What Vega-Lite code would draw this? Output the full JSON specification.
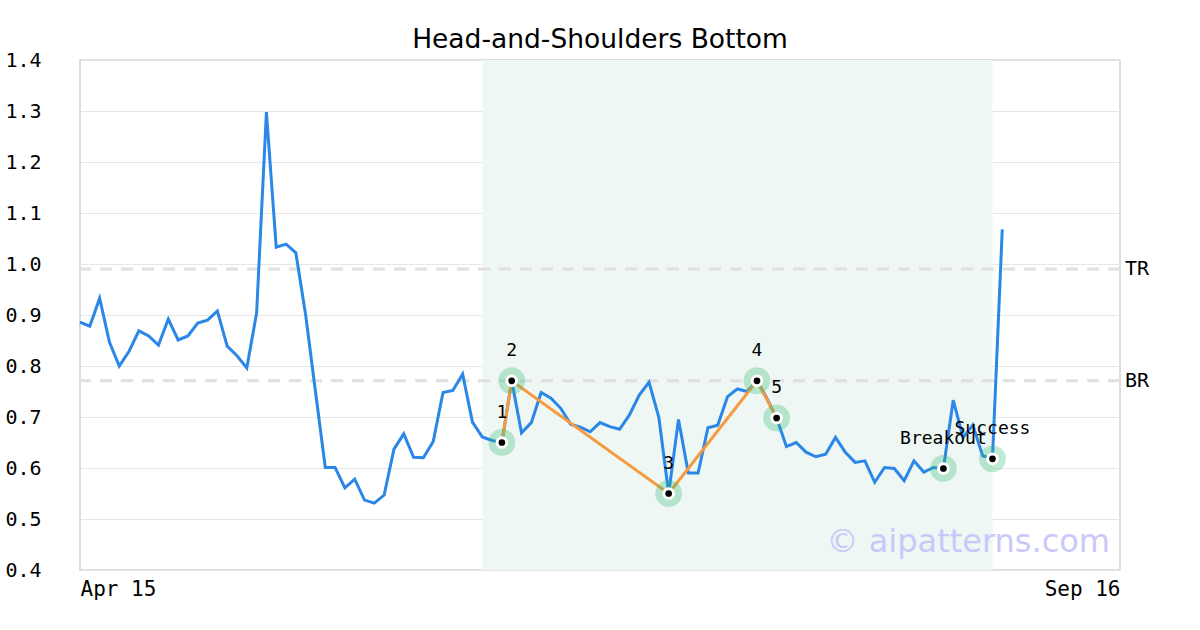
{
  "$schema": "https://vega.github.io/schema/vega-lite/v6.json",
  "width": 1040,
  "height": 510,
  "autosize": "none",
  "padding": {"left": 80, "top": 60, "right": 80, "bottom": 60},
  "background": "white",
  "title": {"text": "Head-and-Shoulders Bottom", "font": "DejaVu Sans", "fontSize": 26.5, "fontWeight": "normal", "color": "#000000", "offset": -3},
  "config": {
    "view": {"stroke": "#dddddd", "strokeWidth": 2},
    "axis": {"labelFont": "DejaVu Sans Mono", "labelFontSize": 20, "labelColor": "#000000", "domain": false, "ticks": false, "title": null}
  },
  "datasets": {
    "series": [
      {"i": 0, "v": 0.886}, {"i": 1, "v": 0.878}, {"i": 2, "v": 0.933}, {"i": 3, "v": 0.847}, {"i": 4, "v": 0.8},
      {"i": 5, "v": 0.829}, {"i": 6, "v": 0.869}, {"i": 7, "v": 0.859}, {"i": 8, "v": 0.841}, {"i": 9, "v": 0.892},
      {"i": 10, "v": 0.851}, {"i": 11, "v": 0.859}, {"i": 12, "v": 0.884}, {"i": 13, "v": 0.89}, {"i": 14, "v": 0.908},
      {"i": 15, "v": 0.839}, {"i": 16, "v": 0.82}, {"i": 17, "v": 0.796}, {"i": 18, "v": 0.904}, {"i": 19, "v": 1.298},
      {"i": 20, "v": 1.033}, {"i": 21, "v": 1.039}, {"i": 22, "v": 1.022}, {"i": 23, "v": 0.9}, {"i": 24, "v": 0.75},
      {"i": 25, "v": 0.601}, {"i": 26, "v": 0.601}, {"i": 27, "v": 0.561}, {"i": 28, "v": 0.578}, {"i": 29, "v": 0.537},
      {"i": 30, "v": 0.531}, {"i": 31, "v": 0.547}, {"i": 32, "v": 0.637}, {"i": 33, "v": 0.667}, {"i": 34, "v": 0.621},
      {"i": 35, "v": 0.62}, {"i": 36, "v": 0.652}, {"i": 37, "v": 0.748}, {"i": 38, "v": 0.752}, {"i": 39, "v": 0.784},
      {"i": 40, "v": 0.69}, {"i": 41, "v": 0.661}, {"i": 42, "v": 0.654}, {"i": 43, "v": 0.65}, {"i": 44, "v": 0.771},
      {"i": 45, "v": 0.669}, {"i": 46, "v": 0.689}, {"i": 47, "v": 0.748}, {"i": 48, "v": 0.737}, {"i": 49, "v": 0.717},
      {"i": 50, "v": 0.686}, {"i": 51, "v": 0.68}, {"i": 52, "v": 0.671}, {"i": 53, "v": 0.689}, {"i": 54, "v": 0.681},
      {"i": 55, "v": 0.676}, {"i": 56, "v": 0.704}, {"i": 57, "v": 0.743}, {"i": 58, "v": 0.768}, {"i": 59, "v": 0.699},
      {"i": 60, "v": 0.55}, {"i": 61, "v": 0.695}, {"i": 62, "v": 0.59}, {"i": 63, "v": 0.59}, {"i": 64, "v": 0.679},
      {"i": 65, "v": 0.684}, {"i": 66, "v": 0.74}, {"i": 67, "v": 0.755}, {"i": 68, "v": 0.75}, {"i": 69, "v": 0.771},
      {"i": 70, "v": 0.737}, {"i": 71, "v": 0.698}, {"i": 72, "v": 0.642}, {"i": 73, "v": 0.65}, {"i": 74, "v": 0.631},
      {"i": 75, "v": 0.622}, {"i": 76, "v": 0.627}, {"i": 77, "v": 0.66}, {"i": 78, "v": 0.631}, {"i": 79, "v": 0.611},
      {"i": 80, "v": 0.614}, {"i": 81, "v": 0.572}, {"i": 82, "v": 0.601}, {"i": 83, "v": 0.599}, {"i": 84, "v": 0.575},
      {"i": 85, "v": 0.614}, {"i": 86, "v": 0.592}, {"i": 87, "v": 0.601}, {"i": 88, "v": 0.599}, {"i": 89, "v": 0.733},
      {"i": 90, "v": 0.66}, {"i": 91, "v": 0.684}, {"i": 92, "v": 0.624}, {"i": 93, "v": 0.618}, {"i": 94, "v": 1.068}
    ],
    "pattern": [
      {"i": 43, "v": 0.65, "label": "1", "shape": true},
      {"i": 44, "v": 0.771, "label": "2", "shape": true},
      {"i": 60, "v": 0.55, "label": "3", "shape": true},
      {"i": 69, "v": 0.771, "label": "4", "shape": true},
      {"i": 71, "v": 0.698, "label": "5", "shape": true},
      {"i": 88, "v": 0.599, "label": "Breakout", "shape": false},
      {"i": 93, "v": 0.618, "label": "Success", "shape": false}
    ],
    "levels": [
      {"name": "TR", "v": 0.99, "i": 106},
      {"name": "BR", "v": 0.771, "i": 106}
    ],
    "zone": [{"start": 41, "end": 93}],
    "mark": [{"i": 106, "v": 0.455, "text": "© aipatterns.com"}]
  },
  "encoding": {
    "x": {"field": "i", "type": "quantitative", "scale": {"domain": [0, 106], "nice": false, "zero": false},
      "axis": {"values": [0, 106], "labelExpr": "datum.value == 0 ? 'Apr 15' : 'Sep 16'", "labelFlush": true, "grid": false, "labelPadding": 8, "labelFontSize": 21}},
    "y": {"field": "v", "type": "quantitative", "scale": {"domain": [0.4, 1.4], "nice": false, "zero": false},
      "axis": {"values": [0.4, 0.5, 0.6, 0.7, 0.8, 0.9, 1.0, 1.1, 1.2, 1.3, 1.4], "format": ".1f", "labelAlign": "left", "labelPadding": 75, "gridColor": "#e6e6e6", "gridWidth": 1}}
  },
  "layer": [
    {
      "data": {"name": "zone"},
      "mark": {"type": "rect", "color": "#eef7f3"},
      "encoding": {"x": {"field": "start", "type": "quantitative"}, "x2": {"field": "end"}, "y": null}
    },
    {
      "data": {"name": "levels"},
      "mark": {"type": "rule", "color": "#e0e0e0", "strokeWidth": 3, "strokeDash": [12, 9]},
      "encoding": {"x": null}
    },
    {
      "data": {"name": "levels"},
      "mark": {"type": "text", "align": "left", "baseline": "middle", "dx": 5, "font": "DejaVu Sans Mono", "fontSize": 20, "color": "#000000"},
      "encoding": {"text": {"field": "name"}}
    },
    {
      "data": {"name": "series"},
      "mark": {"type": "line", "color": "#2a87e8", "strokeWidth": 3}
    },
    {
      "data": {"name": "pattern"},
      "transform": [{"filter": "datum.shape"}],
      "mark": {"type": "line", "color": "#f79a3e", "strokeWidth": 3}
    },
    {
      "data": {"name": "pattern"},
      "mark": {"type": "point", "filled": true, "color": "#2eb872", "opacity": 0.3, "size": 720}
    },
    {
      "data": {"name": "pattern"},
      "mark": {"type": "point", "filled": true, "color": "#ffffff", "opacity": 1, "size": 160}
    },
    {
      "data": {"name": "pattern"},
      "mark": {"type": "point", "filled": true, "color": "#000000", "opacity": 1, "size": 45}
    },
    {
      "data": {"name": "pattern"},
      "mark": {"type": "text", "align": "center", "baseline": "middle", "dy": -30, "font": "DejaVu Sans Mono", "fontSize": 18, "color": "#000000"},
      "encoding": {"text": {"field": "label"}}
    },
    {
      "data": {"name": "mark"},
      "mark": {"type": "text", "align": "right", "baseline": "middle", "dx": -10, "font": "DejaVu Sans", "fontSize": 32, "color": "#c9c9f9"},
      "encoding": {"text": {"field": "text"}}
    }
  ]
}
